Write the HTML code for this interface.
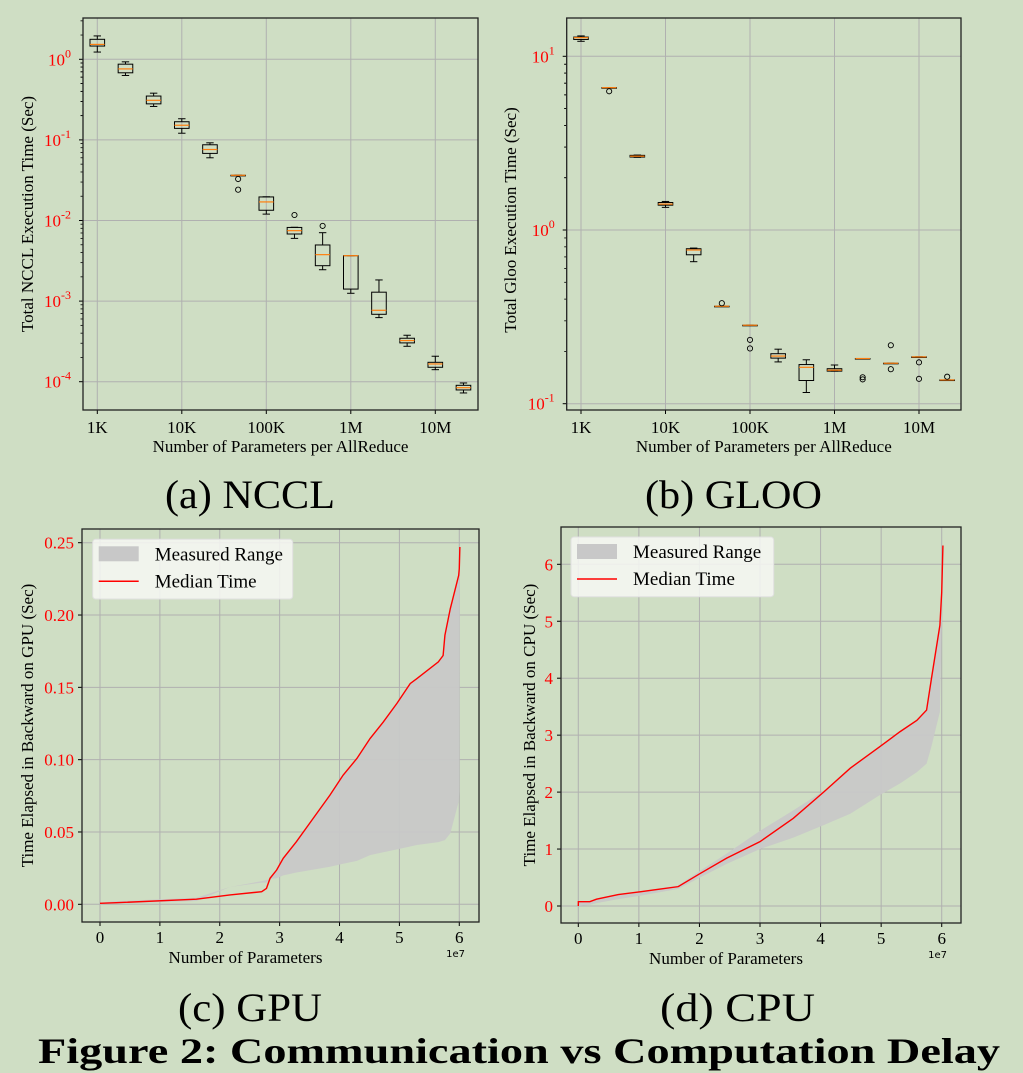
<!DOCTYPE html>
<html><head><meta charset="utf-8"><style>
html,body{margin:0;padding:0;background:#cfdec4;}
svg{display:block;font-family:"Liberation Serif",serif;}
</style></head><body>
<svg id="fig" width="1023" height="1073" viewBox="0 0 1023 1073" xmlns="http://www.w3.org/2000/svg">
<rect x="0" y="0" width="1023" height="1073" fill="#cfdec4"/>
<g id="pa"></g>
<g id="pb"></g>
<g id="pc"></g>
<g id="pd"></g>
<text x="165" y="508" font-size="40" textLength="170" lengthAdjust="spacingAndGlyphs">(a) NCCL</text>
<text x="645" y="508" font-size="40" textLength="177" lengthAdjust="spacingAndGlyphs">(b) GLOO</text>
<text x="178" y="1021" font-size="40" textLength="144" lengthAdjust="spacingAndGlyphs">(c) GPU</text>
<text x="660" y="1021" font-size="40" textLength="155" lengthAdjust="spacingAndGlyphs">(d) CPU</text>
<text x="38" y="1063" font-size="36" font-weight="bold" textLength="962" lengthAdjust="spacingAndGlyphs">Figure 2: Communication vs Computation Delay</text>
</svg>
<script>
// ---- Panel a (NCCL) data ----
const ncclWhiskHi=[1.95,0.93,0.38,0.183,0.092,0.0364,0.0197,0.00824,0.00706,0.00366,0.00183,0.000377,0.000207,0.0000964];
const ncclQ3=[1.77,0.87,0.35,0.168,0.087,0.0364,0.0196,0.0082,0.00497,0.00366,0.00129,0.000346,0.000174,0.0000902];
const ncclMed=[1.53,0.76,0.31,0.152,0.076,0.0364,0.0170,0.00748,0.00377,0.00366,0.000769,0.000324,0.000166,0.0000843];
const ncclQ1=[1.46,0.68,0.28,0.139,0.068,0.0364,0.0134,0.0068,0.00275,0.00141,0.000686,0.000303,0.000151,0.000079];
const ncclWhiskLo=[1.23,0.63,0.26,0.121,0.060,0.0364,0.0120,0.0060,0.00245,0.00125,0.000624,0.000275,0.000141,0.0000725];
const ncclFliers=[[],[],[],[],[],[0.0327,0.0241],[],[0.0117],[0.00857],[],[],[],[],[]];
// ---- Panel b (GLOO) data ----
const glooWhiskHi=[13.1,6.6,2.70,1.46,0.787,0.364,0.283,0.206,0.179,0.167,0.182,0.171,0.186,0.137];
const glooQ3=[12.9,6.6,2.69,1.44,0.78,0.364,0.283,0.194,0.168,0.159,0.182,0.171,0.186,0.137];
const glooMed=[12.8,6.6,2.66,1.41,0.767,0.364,0.283,0.188,0.162,0.156,0.182,0.171,0.186,0.137];
const glooQ1=[12.5,6.6,2.63,1.39,0.72,0.364,0.283,0.183,0.136,0.154,0.182,0.171,0.186,0.137];
const glooWhiskLo=[12.2,6.6,2.62,1.35,0.657,0.364,0.283,0.174,0.116,0.154,0.182,0.171,0.186,0.137];
const glooFliers=[[],[6.29],[],[],[],[0.379],[0.233,0.208],[],[],[],[0.142,0.138],[0.217,0.158],[0.173,0.139],[0.143]];
const sizeTickLabels=["1K","10K","100K","1M","10M"];
const sizeTickExp=[3,4,5,6,7];
// ---- Panel c (GPU) data (x in units of 1e7) ----
const gpuX=[0,0.22,1.61,2.17,2.7,2.78,2.84,2.95,3.06,3.28,3.56,3.84,4.06,4.29,4.51,4.73,4.96,5.18,5.29,5.65,5.73,5.76,5.85,5.99,6.0,6.01];
const gpuMedian=[0.0007,0.001,0.0035,0.0065,0.0087,0.011,0.018,0.0237,0.0318,0.0433,0.0594,0.0755,0.0893,0.1008,0.1146,0.126,0.139,0.1526,0.156,0.1676,0.172,0.186,0.2044,0.2274,0.232,0.247];
const gpuLow=[0,0.0005,0.0023,0.012,0.0160,0.0168,0.0175,0.018,0.020,0.022,0.024,0.026,0.028,0.030,0.034,0.036,0.038,0.040,0.041,0.043,0.044,0.0444,0.049,0.071,0.078,0.247];
const gpuHigh=[0.001,0.002,0.0045,0.012,0.015,0.015,0.018,0.0237,0.0318,0.0433,0.0594,0.0755,0.0893,0.1008,0.1146,0.126,0.139,0.1526,0.156,0.1676,0.172,0.186,0.2044,0.2274,0.232,0.247];
const gpuYTicks=[0,0.05,0.10,0.15,0.20,0.25];
const gpuYTickLabels=["0.00","0.05","0.10","0.15","0.20","0.25"];
// ---- Panel d (CPU) data ----
const cpuX=[0,0.001,0.19,0.30,0.66,1.02,1.65,2.01,2.45,3.0,3.55,4.05,4.49,4.98,5.31,5.59,5.75,5.83,5.97,6.0,6.02];
const cpuMedian=[0.0,0.076,0.076,0.12,0.2,0.25,0.34,0.57,0.84,1.13,1.54,2.0,2.42,2.8,3.06,3.26,3.44,3.99,4.93,5.51,6.33];
const cpuLow=[0,0,0.02,0.05,0.12,0.18,0.30,0.50,0.74,1.0,1.2,1.42,1.62,1.95,2.15,2.35,2.5,2.8,3.41,4.93,6.33];
const cpuHigh=[0.08,0.08,0.09,0.13,0.21,0.26,0.36,0.62,0.92,1.32,1.68,2.02,2.42,2.8,3.06,3.26,3.44,3.99,4.93,5.51,6.33];
const cpuYTicks=[0,1,2,3,4,5,6];
const xTicks=[0,1,2,3,4,5,6];

const NS="http://www.w3.org/2000/svg";
function mk(parent,tag,attrs){const e=document.createElementNS(NS,tag);for(const k in attrs)e.setAttribute(k,attrs[k]);parent.appendChild(e);return e;}

function boxPanel(g,frame,yLog,whHi,q3,med,q1,whLo,fliers,yTickExp,yLabel,ylabX,ylabY){
  const [L,R,T,B]=frame;
  const xOf=e=>97.3-83+L+(e-3)*84.5;
  const yOf=v=>yLog.y0-(Math.log10(v)-yLog.e0)*yLog.dec;
  sizeTickExp.forEach((e,i)=>{
    const ln=mk(g,'line',{x1:xOf(e),x2:xOf(e),y1:T,y2:B,stroke:'#b0b0b0','stroke-width':1});
    
    
    mk(g,'line',{x1:xOf(e),x2:xOf(e),y1:B,y2:B+4,stroke:'#000','stroke-width':1});
    const t=mk(g,'text',{x:xOf(e),y:433,'font-size':17,'text-anchor':'middle'});
    t.textContent=sizeTickLabels[i];
    
    
  });
  yTickExp.forEach(e=>{
    const y=yOf(Math.pow(10,e));
    const ln=mk(g,'line',{x1:L,x2:R,y1:y,y2:y,stroke:'#b0b0b0','stroke-width':1});
    
    
    mk(g,'line',{x1:L-4,x2:L,y1:y,y2:y,stroke:'#000','stroke-width':1});
    const t=mk(g,'text',{x:L-12,y:y+6,'font-size':17,'text-anchor':'end',fill:'#ff0000'});
    
    
    const b=document.createElementNS(NS,'tspan');b.textContent='10';t.appendChild(b);
    const s=document.createElementNS(NS,'tspan');s.setAttribute('dy','-8');s.setAttribute('font-size','12');s.textContent=String(e);t.appendChild(s);
    for(let m=2;m<=9;m++){
      const ym=yOf(m*Math.pow(10,e));
      if(ym>T&&ym<B) mk(g,'line',{x1:L-2.5,x2:L,y1:ym,y2:ym,stroke:'#000','stroke-width':0.8});
    }
    for(let m=2;m<=9;m++){
      const ym=yOf(m*Math.pow(10,e-1));
      if(ym>T&&ym<B&&e===yTickExp[0]) mk(g,'line',{x1:L-2.5,x2:L,y1:ym,y2:ym,stroke:'#000','stroke-width':0.8});
    }
  });
  med.forEach((m,i)=>{
    const e=3+i/3, x=xOf(e), hw=7.3;
    const bg=mk(g,'g',{});
    
    
    mk(bg,'line',{x1:x,x2:x,y1:yOf(whHi[i]),y2:yOf(q3[i]),stroke:'#000','stroke-width':1});
    mk(bg,'line',{x1:x,x2:x,y1:yOf(q1[i]),y2:yOf(whLo[i]),stroke:'#000','stroke-width':1});
    mk(bg,'line',{x1:x-3.7,x2:x+3.7,y1:yOf(whHi[i]),y2:yOf(whHi[i]),stroke:'#000','stroke-width':1});
    mk(bg,'line',{x1:x-3.7,x2:x+3.7,y1:yOf(whLo[i]),y2:yOf(whLo[i]),stroke:'#000','stroke-width':1});
    const y3=yOf(q3[i]),y1=yOf(q1[i]);
    mk(bg,'rect',{x:x-hw,y:y3,width:2*hw,height:Math.max(y1-y3,0.6),fill:'none',stroke:'#000','stroke-width':1});
    mk(bg,'line',{x1:x-hw,x2:x+hw,y1:yOf(m),y2:yOf(m),stroke:'#ff7f0e','stroke-width':1.2});
    fliers[i].forEach(f=>{
      const c=mk(bg,'circle',{cx:x,cy:yOf(f),r:2.6,fill:'none',stroke:'#000','stroke-width':0.9});
      
      
    });
  });
  const fr=mk(g,'rect',{x:L,y:T,width:R-L,height:B-T,fill:'none',stroke:'#222','stroke-width':1.3});
  
  
  const xl=mk(g,'text',{x:(L+R)/2,y:452,'font-size':17,'text-anchor':'middle'});
  xl.textContent='Number of Parameters per AllReduce';
  
  
  const yl=mk(g,'text',{x:0,y:0,'font-size':17,'text-anchor':'middle',transform:`translate(${ylabX},${ylabY}) rotate(-90)`});
  yl.textContent=yLabel;
  
  
}

boxPanel(document.getElementById('pa'),[83,478,18,410],{y0:59.3,e0:0,dec:80.6},
  ncclWhiskHi,ncclQ3,ncclMed,ncclQ1,ncclWhiskLo,ncclFliers,[0,-1,-2,-3,-4],
  'Total NCCL Execution Time (Sec)',33,214);
boxPanel(document.getElementById('pb'),[566.7,961,18,410],{y0:230,e0:0,dec:173.7},
  glooWhiskHi,glooQ3,glooMed,glooQ1,glooWhiskLo,glooFliers,[1,0,-1],
  'Total Gloo Execution Time (Sec)',516,220);

function linePanel(g,frame,xmap,ymap,yTicks,yTickLabels,xs,medv,low,high,yLabel,ylabX,legend){
  const [L,R,T,B]=frame;
  const xOf=v=>xmap[0]+v*xmap[1];
  const yOf=v=>ymap[0]-v*ymap[1];
  xTicks.forEach(v=>{
    const ln=mk(g,'line',{x1:xOf(v),x2:xOf(v),y1:T,y2:B,stroke:'#b0b0b0','stroke-width':1});
    
    
    mk(g,'line',{x1:xOf(v),x2:xOf(v),y1:B,y2:B+4,stroke:'#000','stroke-width':1});
    const t=mk(g,'text',{x:xOf(v),y:B+21,'font-size':17,'text-anchor':'middle'});
    t.textContent=String(v);
    
    
  });
  yTicks.forEach((v,i)=>{
    const y=yOf(v);
    const ln=mk(g,'line',{x1:L,x2:R,y1:y,y2:y,stroke:'#b0b0b0','stroke-width':1});
    
    
    mk(g,'line',{x1:L-4,x2:L,y1:y,y2:y,stroke:'#000','stroke-width':1});
    const t=mk(g,'text',{x:L-8,y:y+6,'font-size':17,'text-anchor':'end',fill:'#ff0000'});
    t.textContent=yTickLabels[i];
    
    
  });
  let d='M'+xs.map((x,i)=>xOf(x)+','+yOf(high[i])).join(' L');
  for(let i=xs.length-1;i>=0;i--) d+=' L'+xOf(xs[i])+','+yOf(low[i]);
  const area=mk(g,'path',{d:d+'Z',fill:'#c8c8c8','fill-opacity':0.95,stroke:'none'});
  
  
  const ml=mk(g,'polyline',{points:xs.map((x,i)=>xOf(x)+','+yOf(medv[i])).join(' '),fill:'none',stroke:'#ff0000','stroke-width':1.4});
  
  
  const fr=mk(g,'rect',{x:L,y:T,width:R-L,height:B-T,fill:'none',stroke:'#222','stroke-width':1.3});
  
  
  const ex=mk(g,'text',{x:R-14,y:B+35,'font-size':10,'font-family':'"DejaVu Sans",sans-serif','text-anchor':'end'});
  ex.textContent='1e7';
  
  
  const xl=mk(g,'text',{x:(L+R)/2-35,y:B+41,'font-size':17,'text-anchor':'middle'});
  xl.textContent='Number of Parameters';
  
  
  const yl=mk(g,'text',{x:0,y:0,'font-size':17,'text-anchor':'middle',transform:`translate(${ylabX},${(T+B)/2}) rotate(-90)`});
  yl.textContent=yLabel;
  
  
  const [lx,ly,lw,lh]=legend;
  const lg=mk(g,'g',{});
  
  
  mk(lg,'rect',{x:lx,y:ly,width:lw,height:lh,rx:3,fill:'#f7f8f5','fill-opacity':0.85,stroke:'#e0e0e0','stroke-width':1});
  mk(lg,'rect',{x:lx+6,y:ly+7,width:40,height:15,fill:'#c8c8c8'});
  mk(lg,'line',{x1:lx+6,x2:lx+46,y1:ly+42,y2:ly+42,stroke:'#ff0000','stroke-width':1.5});
  const t1=mk(lg,'text',{x:lx+62,y:ly+21,'font-size':19});t1.textContent='Measured Range';
  
  
  const t2=mk(lg,'text',{x:lx+62,y:ly+48,'font-size':19});t2.textContent='Median Time';
  
  
}

linePanel(document.getElementById('pc'),[82,479,529,922],[100,59.88],[904.3,1446.4],
  gpuYTicks,gpuYTickLabels,gpuX,gpuMedian,gpuLow,gpuHigh,
  'Time Elapsed in Backward on GPU (Sec)',33,[92.7,539.3,200,59.7]);
linePanel(document.getElementById('pd'),[561,961,527,923],[578.3,60.57],[906,56.95],
  cpuYTicks,cpuYTicks.map(String),cpuX,cpuMedian,cpuLow,cpuHigh,
  'Time Elapsed in Backward on CPU (Sec)',535,[571,537,202.7,59.7]);
</script>
</body></html>
